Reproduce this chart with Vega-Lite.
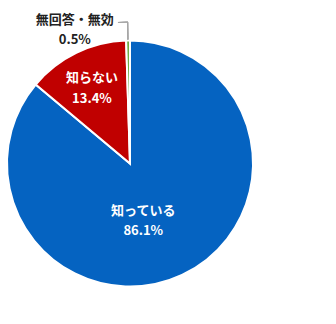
{
  "$schema": "https://vega.github.io/schema/vega-lite/v6.json",
  "width": 246,
  "height": 246,
  "autosize": {"type": "none"},
  "padding": {"left": 7, "top": 40.5, "right": 83, "bottom": 37.5},
  "background": "white",
  "config": {"view": {"stroke": null}},
  "data": {
    "values": [
      {"回答": "知っている", "割合": 86.1, "順": 1, "表示": "知っている\n86.1%"},
      {"回答": "知らない", "割合": 13.4, "順": 2, "表示": "知らない\n13.4%"},
      {"回答": "無回答・無効", "割合": 0.5, "順": 3, "表示": "無回答・無効\n0.5%"}
    ]
  },
  "encoding": {
    "theta": {"field": "割合", "type": "quantitative", "stack": true},
    "order": {"field": "順", "type": "quantitative"}
  },
  "layer": [
    {
      "mark": {"type": "arc", "stroke": "white", "strokeWidth": 2},
      "encoding": {
        "color": {
          "field": "回答",
          "type": "nominal",
          "scale": {
            "domain": ["知っている", "知らない", "無回答・無効"],
            "range": ["#0563c1", "#c00000", "#70ad47"]
          },
          "legend": null
        }
      }
    },
    {
      "mark": {"type": "arc", "theta": -0.0172, "theta2": -0.0158, "radius": 124, "radius2": 141.5, "fill": "#a6a6a6", "stroke": "#a6a6a6", "strokeWidth": 0.7},
      "encoding": {"theta": null, "order": null}
    },
    {
      "mark": {"type": "arc", "theta": -0.085, "theta2": -0.0158, "radius": 141, "radius2": 142, "fill": "#a6a6a6"},
      "encoding": {"theta": null, "order": null}
    },
    {
      "mark": {"type": "text", "radius": 55, "dx": -10, "dy": -2, "lineBreak": "\n", "lineHeight": 20, "font": "Noto Sans CJK JP", "fontWeight": "bold", "fontSize": 13, "fill": "white"},
      "encoding": {
        "text": {"condition": {"test": "datum['回答'] === '知っている'", "field": "表示"}, "value": ""}
      }
    },
    {
      "mark": {"type": "text", "radius": 87, "dy": -7, "lineBreak": "\n", "lineHeight": 21, "font": "Noto Sans CJK JP", "fontWeight": "bold", "fontSize": 13, "fill": "white"},
      "encoding": {
        "text": {"condition": {"test": "datum['回答'] === '知らない'", "field": "表示"}, "value": ""}
      }
    },
    {
      "mark": {"type": "text", "radius": 136.5, "dx": -53, "dy": -7, "lineBreak": "\n", "lineHeight": 20, "font": "Noto Sans CJK JP", "fontWeight": "bold", "fontSize": 13, "fill": "#222222"},
      "encoding": {
        "text": {"condition": {"test": "datum['回答'] === '無回答・無効'", "field": "表示"}, "value": ""}
      }
    }
  ]
}
